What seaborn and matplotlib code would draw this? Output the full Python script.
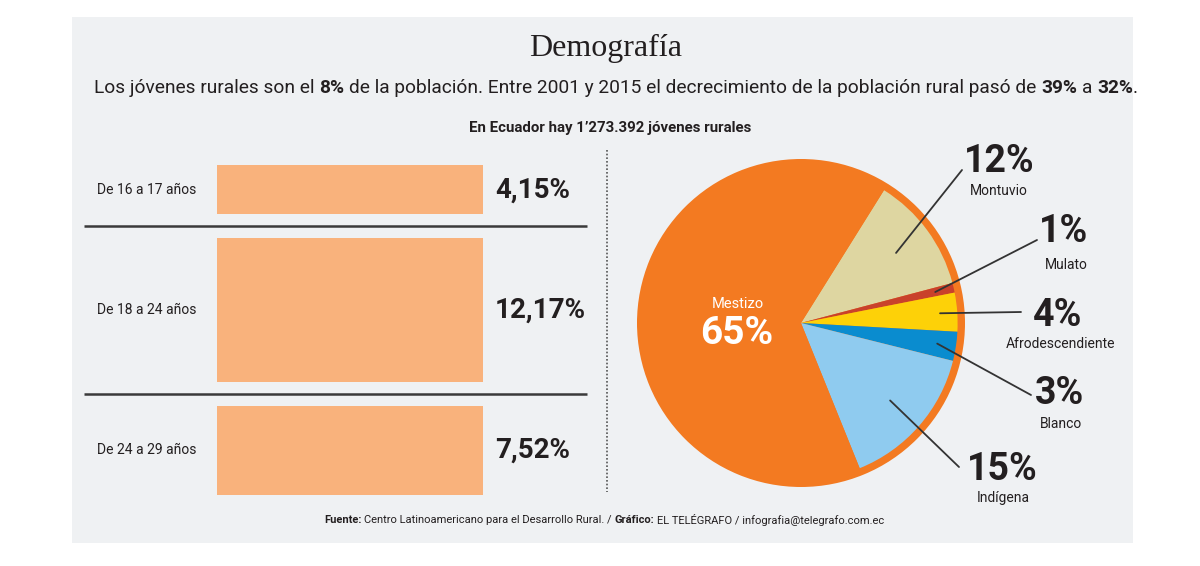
import matplotlib
matplotlib.use("Agg")
from matplotlib import pyplot as plt
from matplotlib.patches import Rectangle
from matplotlib.lines import Line2D
import numpy as np
import seaborn as sns

# ---- data ----
age_groups = ["De 16 a 17 años", "De 18 a 24 años", "De 24 a 29 años"]
age_share = [4.15, 12.17, 7.52]
age_labels = ["4,15%", "12,17%", "7,52%"]

ethnic_groups = ["Montuvio", "Mulato", "Afrodescendiente", "Blanco", "Indígena", "Mestizo"]
ethnic_share = [12, 1, 4, 3, 15, 65]
ethnic_labels = ["12%", "1%", "4%", "3%", "15%", "65%"]
ethnic_colors = ["#ded6a1", "#c9412b", "#fdd108", "#0a8ccf", "#8fcbef", "#f37a21"]

title = "Demografía"
subtitle = [("Los jóvenes rurales son el ", "normal"), ("8%", "bold"),
            (" de la población. Entre 2001 y 2015 el decrecimiento de la población rural pasó de ", "normal"),
            ("39%", "bold"), (" a ", "normal"), ("32%", "bold"), (".", "normal")]
header = "En Ecuador hay 1’273.392 jóvenes rurales"
footer = [("Fuente:", "bold"), (" Centro Latinoamericano para el Desarrollo Rural. / ", "normal"),
          ("Gráfico:", "bold"), (" EL TELÉGRAFO / infografia@telegrafo.com.ec", "normal")]

BAR_COLOR = "#f9b27c"
PANEL = "#eff1f3"
INK = "#231f20"

sns.set_theme(style="white")
plt.rcParams["font.family"] = ["Liberation Sans Narrow", "Roboto", "DejaVu Sans"]

W, H = 1200, 566
fig = plt.figure(figsize=(12, 5.66), dpi=100)
fig.patch.set_facecolor("white")
fig.patches.append(Rectangle((72 / W, 1 - 543 / H), 1061 / W, 526 / H,
                             transform=fig.transFigure, facecolor=PANEL, edgecolor="none", zorder=-5))


def fx(px):
    return px / W


def fy(py):
    return 1 - py / H


def rich_line(parts, xc, y, size, color=INK):
    # lays out mixed regular/bold pieces on one centred line
    r = fig.canvas.get_renderer()
    probe = fig.text(0, 0, "a a", fontsize=size)
    probe2 = fig.text(0, 0, "aa", fontsize=size)
    space = probe.get_window_extent(r).width - probe2.get_window_extent(r).width
    probe.remove()
    probe2.remove()
    items = []
    for s, w in parts:
        core = s.strip(" ")
        lead = len(s) - len(s.lstrip(" "))
        trail = len(s) - len(s.rstrip(" "))
        t = fig.text(0, y, core, fontsize=size, fontweight=w, color=color, va="center", ha="left")
        items.append((t, lead, trail, t.get_window_extent(r).width))
    total = sum(lead * space + wd + trail * space for _, lead, trail, wd in items)
    x = xc * W - total / 2
    for t, lead, trail, wd in items:
        x += lead * space
        t.set_x(x / W)
        x += wd + trail * space


fig.text(fx(606), fy(48), title, fontsize=23, family="Liberation Serif", color=INK, ha="center", va="center")
rich_line(subtitle, fx(616), fy(88), 13.8)
fig.text(fx(610), fy(128), header, fontsize=10.8, fontweight="bold", color=INK, ha="center", va="center")
rich_line(footer, fx(604), fy(520), 8)

# ---- left: bars whose thickness encodes the share ----
px_per_unit = 11.9
gap = 1.95
axL = fig.add_axes([fx(84), fy(510), fx(600) - fx(84), 360 / H])
tops = np.concatenate([[0], np.cumsum(np.array(age_share) + gap)[:-1]])
centers = tops + np.array(age_share) / 2
axL.barh(centers, [266] * len(age_share), left=133, height=age_share, color=BAR_COLOR, linewidth=0)
for i in range(1, len(age_share)):
    axL.hlines(tops[i] - gap / 2, 0, 503, color="#3a3a3a", linewidth=1.8)
for c, g, lab in zip(centers, age_groups, age_labels):
    axL.text(13, c, g, fontsize=10, color=INK, va="center", ha="left")
    axL.text(411, c, lab, fontsize=20, fontweight="bold", color=INK, va="center", ha="left")
axL.set_xlim(0, 516)
axL.set_ylim(345 / px_per_unit, -15 / px_per_unit)
axL.axis("off")

fig.lines.append(Line2D([fx(607), fx(607)], [fy(150), fy(492)], transform=fig.transFigure,
                        color="#555555", linewidth=1.2, linestyle=(0, (1, 1.2))))

# ---- right: pie ----
cx, cy, rad = 801, 323, 164
axP = fig.add_axes([fx(620), fy(510), fx(1130) - fx(620), 370 / H])
axP.pie([sum(ethnic_share)], colors=[ethnic_colors[-1]], radius=1.0, wedgeprops=dict(linewidth=0))
wedges, _ = axP.pie(ethnic_share, colors=ethnic_colors, radius=0.955, startangle=58,
                    counterclock=False, wedgeprops=dict(linewidth=0))
axP.set_xlim((620 - cx) / rad, (1130 - cx) / rad)
axP.set_ylim((cy - 510) / rad, (cy - 140) / rad)
axP.set_aspect("equal")
axP.axis("off")


def d(px, py):
    return ((px - cx) / rad, (cy - py) / rad)


# label layout: (pct centre, name centre, leader start radius, leader end)
label_layout = [
    ((999, 162), (999, 191), 0.72, (962, 170)),
    ((1064, 232), (1066, 265), 0.84, (1037, 240)),
    ((1058, 315), (1060, 344), 0.85, (1021, 312)),
    ((1060, 393), (1061, 424), 0.84, (1031, 395)),
    ((1002, 469), (1003, 498), 0.72, (959, 467)),
]
for w, pct, name, (pc, nc, r0, end) in zip(wedges, ethnic_labels, ethnic_groups, label_layout):
    ang = np.deg2rad((w.theta1 + w.theta2) / 2)
    start = (r0 * np.cos(ang), r0 * np.sin(ang))
    axP.plot([start[0], d(*end)[0]], [start[1], d(*end)[1]], color="#333333", linewidth=1.3)
    axP.text(*d(*pc), pct, fontsize=27, fontweight="bold", color=INK, ha="center", va="center")
    axP.text(*d(*nc), name, fontsize=10, color=INK, ha="center", va="center")

axP.text(*d(738, 304), ethnic_groups[-1], fontsize=10.5, color="white", ha="center", va="center")
axP.text(*d(737, 334), ethnic_labels[-1], fontsize=28, fontweight="bold", color="white", ha="center", va="center")

fig.savefig("out.png", dpi=100, facecolor="white")
